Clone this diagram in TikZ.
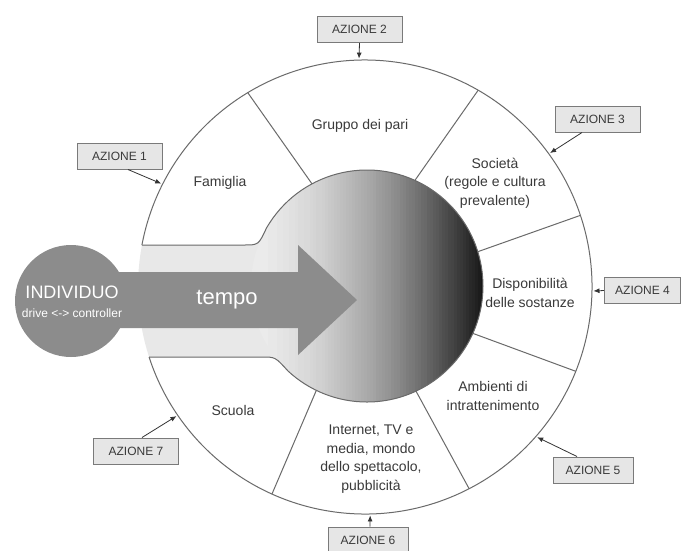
\documentclass[tikz,border=0pt]{standalone}
\usepackage{fontspec}
\setmainfont{Liberation Sans}
\usetikzlibrary{arrows.meta,calc}
\definecolor{txt}{HTML}{3A3A3A}
\definecolor{linec}{HTML}{6A6A6A}
\definecolor{bandc}{HTML}{E8E8E8}
\definecolor{arrowc}{HTML}{8C8C8C}
\definecolor{boxfill}{HTML}{E6E6E6}
\definecolor{boxline}{HTML}{7A7A7A}
\begin{document}
\begin{tikzpicture}[x=1pt,y=1pt,
  azbox/.style={draw=boxline, fill=boxfill, line width=1pt, minimum width=85pt, minimum height=26pt, inner sep=0pt, font=\fontsize{12}{14}\selectfont, text=txt},
  lbl/.style={align=center, font=\fontsize{14}{18.5}\selectfont, text=txt},
  azarrow/.style={draw=black!80, line width=0.8pt, -{Latex[length=6pt,width=5pt]}},
  divider/.style={draw=linec, line width=1pt}]
\useasboundingbox (0,0) rectangle (684,-550);
\fill[white] (0,0) rectangle (684,-550);
\coordinate (O) at (365,-287);
\coordinate (I) at (367,-286);
% light band + inner circle region
\fill[bandc] (141.9,-245) -- (244,-245) .. controls (258.5,-245) .. (266.5,-228)
   arc[start angle=150, end angle=-133, radius=116]
   .. controls (275.3,-357) .. (262,-357) -- (149.1,-357)
   arc[start angle=197.96, end angle=169.3, radius=227] -- cycle;
% gradient inside the inner circle
\begin{scope}
\clip (I) circle[radius=116];
\foreach \i in {0,...,79}{
  \pgfmathsetmacro\tt{(\i+0.5)/80}
  \pgfmathtruncatemacro\k{8+88*(\tt)^1.7}
  \fill[black!\k] (250+\i*3,-150) rectangle (250+\i*3+3.6,-420);
}
\end{scope}
% outline of band + inner circle
\draw[linec, line width=1pt] (141.9,-245) -- (244,-245) .. controls (258.5,-245) .. (266.5,-228)
   arc[start angle=150, end angle=-133, radius=116]
   .. controls (275.3,-357) .. (262,-357) -- (149.1,-357);
% outer circle arc
\draw[linec, line width=1pt] (O) ++(169.3:227) arc[start angle=169.3, end angle=-162.04, radius=227];
% dividers
\path (I) ++(118.3:116) coordinate (d1i);  \path (O) ++(121.1:227) coordinate (d1o);
\path (I) ++(65.6:116) coordinate (d2i);   \path (O) ++(60.1:227) coordinate (d2o);
\path (I) ++(17.2:116) coordinate (d3i);   \path (O) ++(18.4:227) coordinate (d3o);
\path (I) ++(-24.1:116) coordinate (d4i);  \path (O) ++(-21.8:227) coordinate (d4o);
\path (I) ++(-65:116) coordinate (d5i);    \path (O) ++(-62.7:227) coordinate (d5o);
\path (I) ++(-115.9:116) coordinate (d6i); \path (O) ++(-114.2:227) coordinate (d6o);
\foreach \n in {1,...,6}{\draw[divider] (d\n i) -- (d\n o);}
% big arrow and individual circle
\fill[arrowc] (100,-272) -- (298,-272) -- (298,-245) -- (357,-300) -- (298,-355) -- (298,-328) -- (100,-328) -- cycle;
\node[circle, fill=arrowc, minimum size=112pt, inner sep=0pt] (ind) at (71,-301) {};
\node[text=white, font=\fontsize{18}{20}\selectfont] (indt) at (72,-292) {INDIVIDUO};
\node[text=white, font=\fontsize{12}{14}\selectfont] (drv) at (72,-313) {drive <-> controller};
\node[text=white, font=\fontsize{22}{24}\selectfont] (tempo) at (227,-300) {tempo};
% sector labels
\node[lbl] (fam) at (220,-183) {Famiglia};
\node[lbl] (gru) at (360,-126) {Gruppo dei pari};
\node[lbl] (soc) at (495,-183) {Società\\(regole e cultura\\prevalente)};
\node[lbl] (dis) at (530,-293) {Disponibilità\\delle sostanze};
\node[lbl] (amb) at (493,-396) {Ambienti di\\intrattenimento};
\node[lbl] (int) at (371,-459) {Internet, TV e\\media, mondo\\dello spettacolo,\\pubblicità};
\node[lbl] (scu) at (233,-410) {Scuola};
% action boxes
\node[azbox] (a1) at (119.5,-156) {AZIONE 1};
\node[azbox] (a2) at (359.5,-29.5) {AZIONE 2};
\node[azbox] (a3) at (597.5,-119) {AZIONE 3};
\node[azbox, minimum width=76pt] (a4) at (642.5,-290.5) {AZIONE 4};
\node[azbox, minimum width=80pt] (a5) at (593,-470) {AZIONE 5};
\node[azbox, minimum width=80pt] (a6) at (368,-540) {AZIONE 6};
\node[azbox] (a7) at (136,-451) {AZIONE 7};
% arrow targets on the outer circle
\path (O) ++(153.1:228.5) coordinate (t1);
\path (O) ++(91.5:228.5) coordinate (t2);
\path (O) ++(35.9:228.5) coordinate (t3);
\path (O) ++(-1:228.5) coordinate (t4);
\path (O) ++(-41.1:228.5) coordinate (t5);
\path (O) ++(-88.7:228.5) coordinate (t6);
\path (O) ++(214.4:228.5) coordinate (t7);
\draw[azarrow] ([xshift=8.5pt]a1.south) -- (t1);
\draw[azarrow] (a2.south) -- (t2);
\draw[azarrow] ([xshift=-15.5pt]a3.south) -- (t3);
\draw[azarrow] (a4.west) -- (t4);
\draw[azarrow] ([xshift=-16pt]a5.north) -- (t5);
\draw[azarrow] ([xshift=2pt]a6.north) -- (t6);
\draw[azarrow] ([xshift=6pt]a7.north) -- (t7);
\end{tikzpicture}
\end{document}
